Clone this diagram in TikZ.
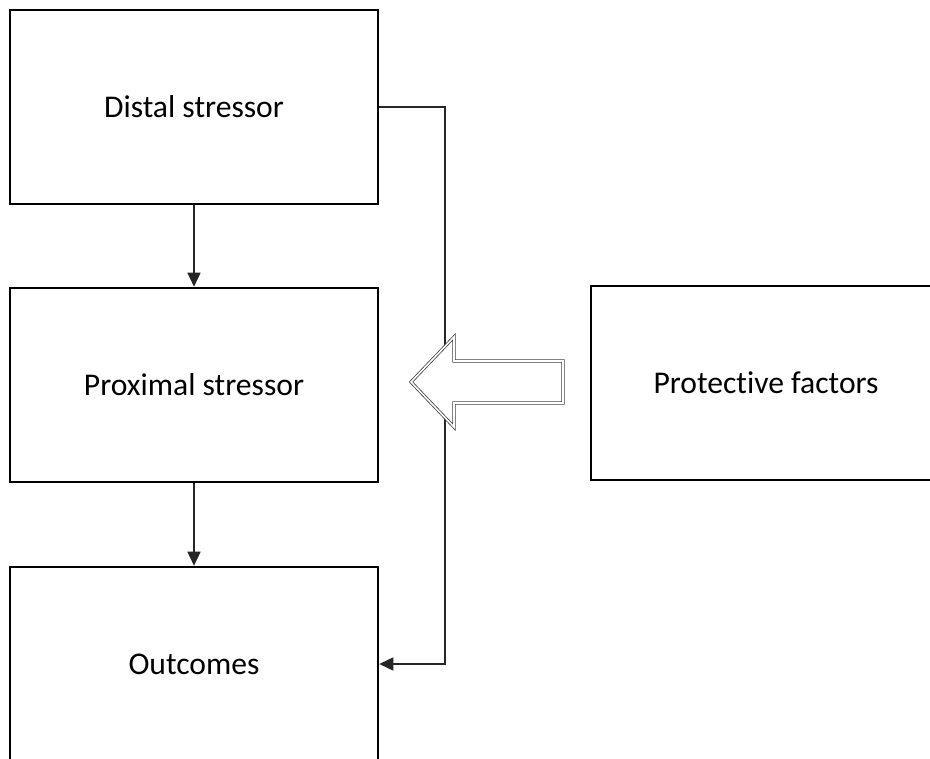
\documentclass[tikz,border=0pt]{standalone}
\usepackage{fontspec}
\setmainfont[Ligatures=NoCommon]{Carlito}
\usetikzlibrary{arrows.meta}
\begin{document}
\begin{tikzpicture}[x=0.02cm,y=-0.02cm,
  box/.style={draw=black,line width=1.5pt,fill=white,inner sep=0pt,minimum height=3.88cm,font=\fontsize{18}{21}\selectfont},
  conn/.style={draw=black!85,line width=0.6pt,-{Triangle[length=8pt,width=7.5pt]}},
  bigarrow/.style={draw=black!75,line width=0.45pt,double=white,double distance=0.9pt,fill=white,line join=miter}]
\useasboundingbox (0,0) rectangle (930,759);
\begin{scope}
\clip (0,0) rectangle (930,759);
\node[box,minimum width=7.36cm] (D) at (194,107) {Distal stressor};
\node[box,minimum width=7.36cm] (P) at (194,385) {Proximal stressor};
\node[box,minimum width=7.36cm] (O) at (194,664) {Outcomes};
\node[box,minimum width=7.0cm] (F) at (766,383) {Protective factors};
\draw[conn] (D.south) -- (P.north);
\draw[conn] (P.south) -- (O.north);
\coordinate (c1) at (445,107);
\draw[conn] (D.east |- c1) -- (c1) |- (O.east);
\draw[bigarrow] (411,382) -- (454,337) -- (454,361) -- (563,361) -- (563,403) -- (454,403) -- (454,427) -- cycle;
\end{scope}
\end{tikzpicture}
\end{document}
